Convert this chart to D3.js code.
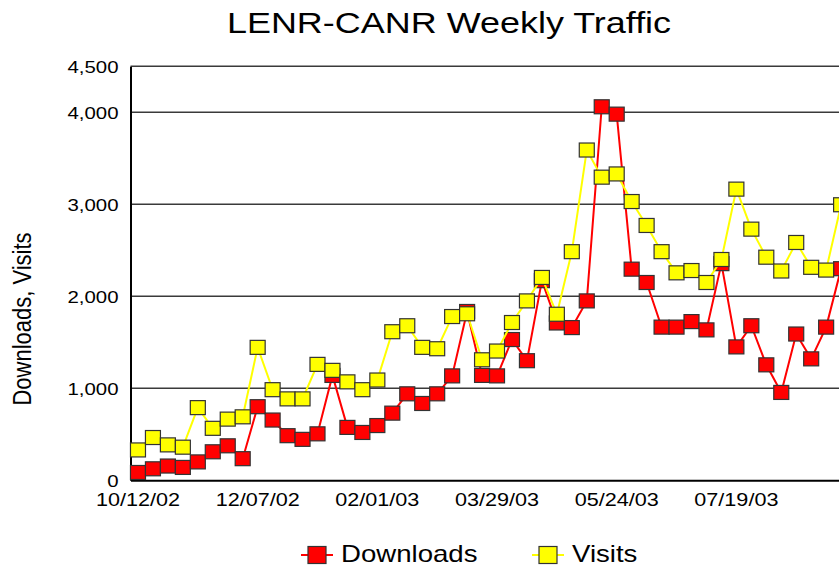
<!DOCTYPE html>
<html>
<head>
<meta charset="utf-8">
<script src="https://cdn.jsdelivr.net/npm/d3@7"></script>
<style>
    body { margin: 0; background: #fff; }
    svg { display: block; }
</style>
</head>
<body>
<svg id="chart" width="839" height="567"></svg>
<script>
    var font = "Arial, 'Liberation Sans', sans-serif";
    var sx = 1.2; // the picture is a little wide, text is stretched like it

    // weeks, one point each
    var weeks = ["10/12/02", "10/19/02", "10/26/02", "11/02/02", "11/09/02", "11/16/02", "11/23/02", "11/30/02",
        "12/07/02", "12/14/02", "12/21/02", "12/28/02", "01/04/03", "01/11/03", "01/18/03", "01/25/03",
        "02/01/03", "02/08/03", "02/15/03", "02/22/03", "03/01/03", "03/08/03", "03/15/03", "03/22/03",
        "03/29/03", "04/05/03", "04/12/03", "04/19/03", "04/26/03", "05/03/03", "05/10/03", "05/17/03",
        "05/24/03", "05/31/03", "06/07/03", "06/14/03", "06/21/03", "06/28/03", "07/05/03", "07/12/03",
        "07/19/03", "07/26/03", "08/02/03", "08/09/03", "08/16/03", "08/23/03", "08/30/03", "09/06/03"];

    var downloads = [85, 125, 155, 140, 200, 310, 375, 235, 800, 655, 485, 445, 505, 1140, 575, 520,
        595, 730, 940, 835, 940, 1135, 1835, 1140, 1135, 1530, 1300, 2170, 1710, 1660, 1950, 4060,
        3980, 2295, 2150, 1665, 1665, 1725, 1635, 2355, 1450, 1680, 1255, 955, 1590, 1320, 1665, 2300];

    var visits = [330, 465, 385, 360, 790, 565, 665, 690, 1445, 985, 885, 885, 1260, 1195, 1070, 985,
        1090, 1615, 1680, 1445, 1430, 1780, 1810, 1310, 1405, 1715, 1950, 2205, 1805, 2485, 3590, 3295,
        3330, 3030, 2770, 2485, 2255, 2280, 2150, 2400, 3165, 2730, 2425, 2275, 2585, 2315, 2285, 2995];

    var xTickLabels = ["10/12/02", "12/07/02", "02/01/03", "03/29/03", "05/24/03", "07/19/03"];
    var yTicks = [0, 1000, 2000, 3000, 4000, 4500];
    var gridValues = [1000, 2000, 3000, 4000, 4500];

    var series = [
        { name: "Downloads", values: downloads, color: "#ff0000" },
        { name: "Visits", values: visits, color: "#ffff00" }
    ];

    var svg = d3.select("#chart");

    var plotLeft = 130.5, plotTop = 66.3, plotBottom = 480.3;
    var step = 14.96;
    var plotRight = plotLeft + weeks.length * step;

    var x = d3.scaleBand().domain(weeks).range([plotLeft, plotRight]);
    var y = d3.scaleLinear().domain([0, 4500]).range([plotBottom, plotTop]);

    function cx(d, i) { return x(weeks[i]) + x.bandwidth() / 2; }

    // gridlines
    svg.append("g").selectAll("line")
        .data(gridValues)
        .enter()
        .append("line")
        .attr("x1", plotLeft)
        .attr("x2", plotRight)
        .attr("y1", function (d) { return y(d); })
        .attr("y2", function (d) { return y(d); })
        .attr("stroke", "#3a3a3a")
        .attr("stroke-width", 1.4);

    // y axis
    var yAxis = svg.append("g")
        .attr("transform", "translate(" + plotLeft + ",0)")
        .call(d3.axisLeft(y).tickValues(yTicks).tickSize(0).tickSizeOuter(0).tickFormat(d3.format(",")));
    yAxis.select(".domain").attr("stroke", "#000").attr("stroke-width", 2);
    yAxis.selectAll("text")
        .attr("x", -10)
        .attr("dy", "0.36em")
        .attr("font-family", font)
        .attr("font-size", "17px")
        .attr("fill", "#000")
        .attr("transform", "scale(" + sx + ",1)");

    // x axis
    var xAxis = svg.append("g")
        .attr("transform", "translate(0," + plotBottom + ")")
        .call(d3.axisBottom(x).tickValues(xTickLabels).tickSize(0).tickSizeOuter(0));
    xAxis.select(".domain").attr("stroke", "#000").attr("stroke-width", 2);
    xAxis.selectAll("text")
        .attr("y", 26)
        .attr("dy", 0)
        .attr("font-family", font)
        .attr("font-size", "18px")
        .attr("fill", "#000")
        .attr("transform", "scale(" + sx + ",1)");

    var line = d3.line()
        .x(cx)
        .y(function (d) { return y(d); });

    series.forEach(function (s) {
        svg.append("path")
            .datum(s.values)
            .attr("d", line)
            .attr("fill", "none")
            .attr("stroke", s.color)
            .attr("stroke-width", 2);

        svg.append("g").selectAll("rect")
            .data(s.values)
            .enter()
            .append("rect")
            .attr("x", function (d, i) { return cx(d, i) - 7.5; })
            .attr("y", function (d) { return y(d) - 7; })
            .attr("width", 15)
            .attr("height", 14)
            .attr("fill", s.color)
            .attr("stroke", "#333")
            .attr("stroke-width", 1.2);
    });

    // title
    svg.append("text")
        .attr("transform", "translate(449,33) scale(1.24,1)")
        .attr("text-anchor", "middle")
        .attr("font-family", font)
        .attr("font-size", "29px")
        .attr("fill", "#000")
        .text("LENR-CANR Weekly Traffic");

    // y label
    svg.append("text")
        .attr("transform", "translate(31,319) scale(" + sx + ",1) rotate(-90)")
        .attr("text-anchor", "middle")
        .attr("font-family", font)
        .attr("font-size", "22px")
        .attr("fill", "#000")
        .text("Downloads, Visits");

    // legend
    var legendX = [317, 548];
    var legend = svg.append("g").selectAll("g")
        .data(series)
        .enter()
        .append("g")
        .attr("transform", function (d, i) { return "translate(" + legendX[i] + ",555)"; });
    legend.append("line")
        .attr("x1", -16).attr("x2", 16)
        .attr("y1", 0).attr("y2", 0)
        .attr("stroke", function (d) { return d.color; })
        .attr("stroke-width", 2);
    legend.append("rect")
        .attr("x", -9).attr("y", -8.5)
        .attr("width", 18).attr("height", 17)
        .attr("fill", function (d) { return d.color; })
        .attr("stroke", "#333")
        .attr("stroke-width", 1.2);
    legend.append("text")
        .attr("transform", "translate(24,7) scale(" + sx + ",1)")
        .attr("font-family", font)
        .attr("font-size", "23px")
        .attr("fill", "#000")
        .text(function (d) { return d.name; });
</script>
</body>
</html>
